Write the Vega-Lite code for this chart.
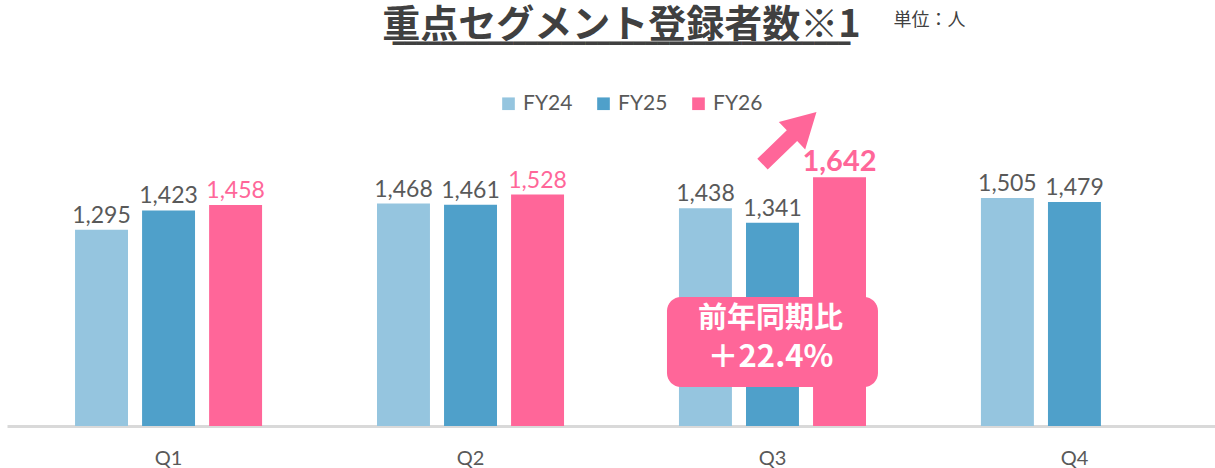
{
  "$schema": "https://vega.github.io/schema/vega-lite/v6.json",
  "autosize": {"type": "none"},
  "width": 1229,
  "height": 303,
  "padding": {"left": 7, "top": 123, "right": 0, "bottom": 42},
  "background": "white",
  "title": {
    "text": "重点セグメント登録者数※1",
    "subtitle": "━━━━━━━━━━━━━━━━━━━━━━━━━━━━━━━━━━━━━━",
    "font": "Noto Sans CJK JP",
    "fontWeight": "bold",
    "fontSize": 38,
    "color": "#404040",
    "subtitleFont": "DejaVu Sans Mono",
    "subtitleFontSize": 20,
    "subtitleColor": "#404040",
    "subtitlePadding": -11,
    "anchor": "middle",
    "frame": "group",
    "offset": -42
  },
  "config": {"view": {"stroke": null}},
  "datasets": {
    "main": [
      {"quarter": "Q1", "series": "FY24", "value": 1295},
      {"quarter": "Q1", "series": "FY25", "value": 1423},
      {"quarter": "Q1", "series": "FY26", "value": 1458},
      {"quarter": "Q2", "series": "FY24", "value": 1468},
      {"quarter": "Q2", "series": "FY25", "value": 1461},
      {"quarter": "Q2", "series": "FY26", "value": 1528},
      {"quarter": "Q3", "series": "FY24", "value": 1438},
      {"quarter": "Q3", "series": "FY25", "value": 1341},
      {"quarter": "Q3", "series": "FY26", "value": 1642},
      {"quarter": "Q4", "series": "FY24", "value": 1505},
      {"quarter": "Q4", "series": "FY25", "value": 1479}
    ],
    "note": [
      {"quarter": "Q3", "label": "前年同期比", "label2": "＋22.4%", "unit": "単位：人"}
    ]
  },
  "data": {"name": "main"},
  "layer": [
    {
      "mark": {"type": "bar"},
      "encoding": {
        "x": {
          "field": "quarter",
          "type": "nominal",
          "title": null,
          "scale": {"domain": ["Q1", "Q2", "Q3", "Q4"], "paddingInner": 0.334, "paddingOuter": 0.202},
          "axis": {
            "domainColor": "#D9D9D9",
            "domainWidth": 3,
            "ticks": false,
            "labelAngle": 0,
            "labelFont": "Lato",
            "labelFontSize": 20,
            "labelColor": "#595959",
            "labelPadding": 22
          }
        },
        "xOffset": {
          "field": "series",
          "type": "nominal",
          "scale": {"domain": ["FY24", "FY25", "FY26"], "paddingInner": 0.21, "paddingOuter": 0.105}
        },
        "y": {"field": "value", "type": "quantitative", "scale": {"domain": [0, 2000]}, "axis": null},
        "color": {
          "field": "series",
          "type": "nominal",
          "scale": {"domain": ["FY24", "FY25", "FY26"], "range": ["#95C5DF", "#4FA0CA", "#FF6699"]},
          "legend": {
            "orient": "none",
            "legendX": 491,
            "legendY": -30,
            "direction": "horizontal",
            "title": null,
            "symbolType": "square",
            "symbolSize": 160,
            "symbolStrokeWidth": 0,
            "labelFont": "Lato",
            "labelFontSize": 21,
            "labelColor": "#595959",
            "columnPadding": 20
          }
        }
      }
    },
    {
      "transform": [{"filter": "!(datum.quarter === 'Q3' && datum.series === 'FY26')"}],
      "mark": {"type": "text", "baseline": "alphabetic", "dy": -7, "font": "Lato", "fontSize": 23},
      "encoding": {
        "x": {"field": "quarter", "type": "nominal"},
        "xOffset": {"field": "series", "type": "nominal"},
        "y": {"field": "value", "type": "quantitative"},
        "text": {"field": "value", "type": "quantitative", "format": ","},
        "color": {"condition": {"test": "datum.series === 'FY26'", "value": "#FF6699"}, "value": "#595959"}
      }
    },
    {
      "transform": [{"filter": "datum.quarter === 'Q3' && datum.series === 'FY26'"}],
      "mark": {"type": "text", "baseline": "alphabetic", "dy": -6, "font": "Lato", "fontSize": 29, "fontWeight": "bold", "color": "#FF6699"},
      "encoding": {
        "x": {"field": "quarter", "type": "nominal"},
        "xOffset": {"field": "series", "type": "nominal"},
        "y": {"field": "value", "type": "quantitative"},
        "text": {"field": "value", "type": "quantitative", "format": ","}
      }
    },
    {
      "data": {"name": "note"},
      "mark": {"type": "bar", "cornerRadius": 14, "color": "#FF6699", "width": 211},
      "encoding": {
        "x": {"field": "quarter", "type": "nominal"},
        "y": {"datum": 851},
        "y2": {"datum": 257}
      }
    },
    {
      "data": {"name": "note"},
      "mark": {"type": "text", "font": "Noto Sans CJK JP", "fontWeight": "bold", "fontSize": 29, "color": "white", "align": "center", "baseline": "middle", "dx": -2},
      "encoding": {
        "x": {"field": "quarter", "type": "nominal"},
        "y": {"datum": 705},
        "text": {"field": "label"}
      }
    },
    {
      "data": {"name": "note"},
      "mark": {"type": "text", "font": "Noto Sans CJK JP", "fontWeight": "bold", "fontSize": 31, "color": "white", "align": "center", "baseline": "middle", "dx": -2},
      "encoding": {
        "x": {"field": "quarter", "type": "nominal"},
        "y": {"datum": 448},
        "text": {"field": "label2"}
      }
    },
    {
      "data": {"name": "note"},
      "mark": {"type": "point", "shape": "M 0.88 -0.5 L 0.654 0.246 L 0.494 0.08 L -0.096 0.648 L -0.304 0.432 L 0.286 -0.136 L 0.126 -0.302 Z", "size": 10000, "filled": true, "color": "#FF6699", "opacity": 1, "strokeWidth": 0},
      "encoding": {
        "x": {"field": "quarter", "type": "nominal"},
        "y": {"datum": 1907}
      }
    },
    {
      "data": {"name": "note"},
      "mark": {"type": "text", "font": "Noto Sans CJK JP", "fontSize": 18, "color": "#404040", "align": "center", "baseline": "middle", "dx": 157},
      "encoding": {
        "x": {"field": "quarter", "type": "nominal"},
        "y": {"datum": 2670},
        "text": {"field": "unit"}
      }
    }
  ]
}
